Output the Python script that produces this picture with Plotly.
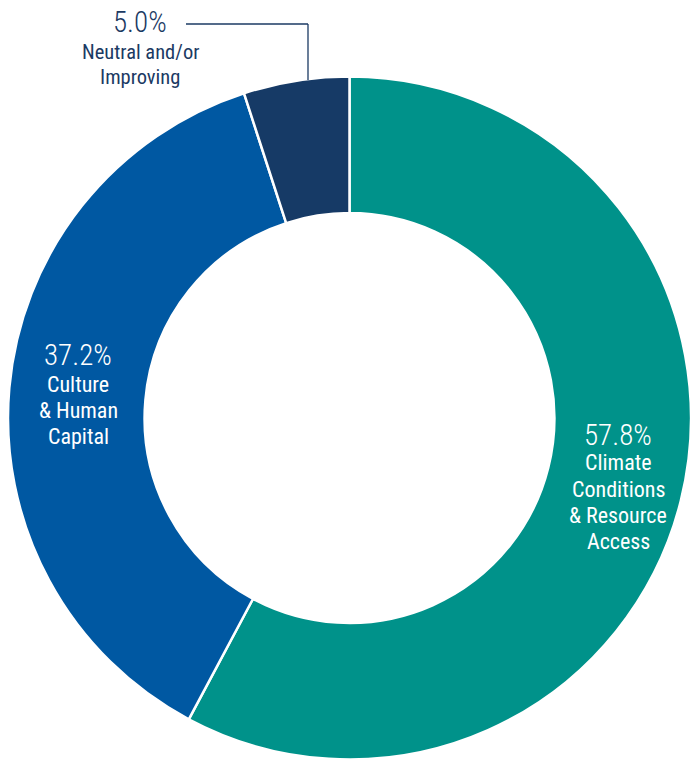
import plotly.graph_objects as go

W, H = 691, 760

# Slice data, in clockwise order starting at 12 o'clock
categories = ["Climate Conditions & Resource Access", "Culture & Human Capital", "Neutral and/or Improving"]
shares = [57.8, 37.2, 5.0]
label_lines = [
    ["Climate", "Conditions", "& Resource", "Access"],
    ["Culture", "& Human", "Capital"],
    ["Neutral and/or", "Improving"],
]
colors = ["#00928A", "#0058A2", "#163A66"]
text_colors = ["#FFFFFF", "#FFFFFF", "#1B3A63"]

FONT = "Roboto Condensed, Liberation Sans Narrow, DejaVu Sans Condensed, sans-serif"

fig = go.Figure(
    go.Pie(
        labels=categories,
        values=shares,
        hole=0.6,
        sort=False,
        direction="clockwise",
        rotation=0,
        marker=dict(colors=colors, line=dict(color="#FFFFFF", width=2.5)),
        textinfo="none",
        hoverinfo="label+percent",
        showlegend=False,
        domain=dict(x=[8 / W, 1.0], y=[0.0, 1 - 76 / H]),
    )
)

# Label placement (pixels from top-left): centre x, percent-line y,
# offset to first label line, spacing between label lines, label font size
label_pos = [(618, 435, 28, 26.3, 22), (78, 355, 29, 26.5, 22), (140, 22, 30, 25, 20.5)]

annotations = []
for share, lines, (px, py, off, gap, fs), tc in zip(shares, label_lines, label_pos, text_colors):
    annotations.append(dict(
        x=px / W, y=1 - py / H, xref="paper", yref="paper",
        text=f"{share:.1f}%", showarrow=False,
        font=dict(family=FONT, size=29, color=tc, weight=300),
        xanchor="center", yanchor="middle",
    ))
    for i, ln in enumerate(lines):
        ly = py + off + i * gap
        annotations.append(dict(
            x=px / W, y=1 - ly / H, xref="paper", yref="paper",
            text=ln, showarrow=False,
            font=dict(family=FONT, size=fs, color=tc),
            xanchor="center", yanchor="middle",
        ))

# Leader line from the small slice's label to its outer edge
leader = [(186, 24), (308, 24), (308, 80)]
shapes = []
for (x0, y0), (x1, y1) in zip(leader[:-1], leader[1:]):
    shapes.append(dict(
        type="line", xref="paper", yref="paper",
        x0=x0 / W, y0=1 - y0 / H, x1=x1 / W, y1=1 - y1 / H,
        line=dict(color="#1B3A63", width=1.3),
    ))

fig.update_layout(
    width=W, height=H,
    margin=dict(l=0, r=0, t=0, b=0),
    paper_bgcolor="#FFFFFF",
    plot_bgcolor="#FFFFFF",
    annotations=annotations,
    shapes=shapes,
)

fig.write_html("out.html")
